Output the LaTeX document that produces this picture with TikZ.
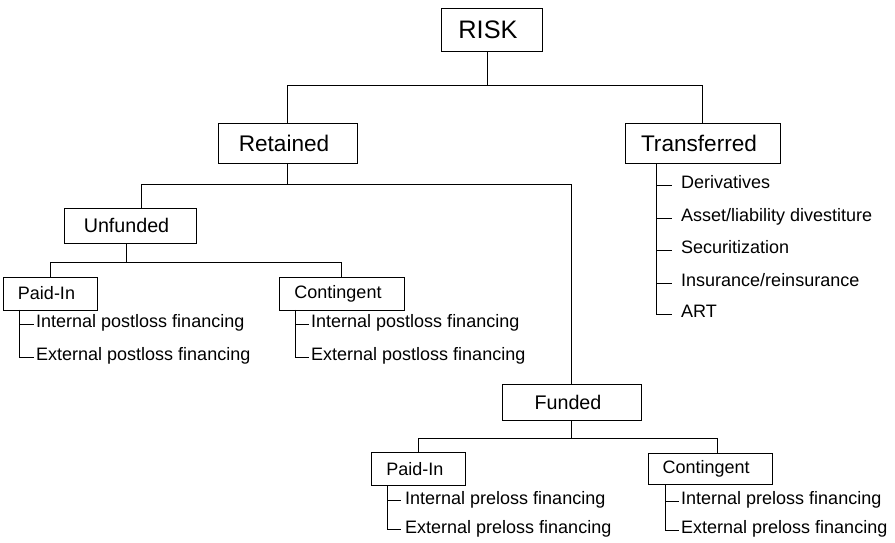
\documentclass[tikz,border=0pt]{standalone}
\usepackage{fontspec}
\setmainfont{Liberation Sans}
\tikzset{
line width=1.1pt, % thin rules for frames and branches
box/.style={draw, inner sep=0pt, execute at end node={\hspace{7pt}}}, % framed category, label sits a bit left
lvlA/.style={box, font=\fontsize{25.3}{30}\selectfont}, % the root
lvlB/.style={box, font=\fontsize{22.6}{27}\selectfont}, % retained / transferred
lvlC/.style={box, font=\fontsize{19.7}{24}\selectfont}, % unfunded / funded
lvlD/.style={box, font=\fontsize{18}{22}\selectfont}, % paid-in / contingent
item/.style={anchor=west, inner xsep=2.5pt, inner ysep=0pt, text height=0.72em, text depth=0pt, font=\fontsize{18}{22}\selectfont}, % listed instrument
}

\begin{document}
\begin{tikzpicture}[x=1pt, y=-1pt]
        \useasboundingbox (0,0) rectangle (895,542);

        \node[lvlA, minimum width=101, minimum height=43] (risk) at (491.5,29.5) {RISK};
        \node[lvlB, minimum width=139, minimum height=40] (ret) at (287.5,143) {Retained};
        \node[lvlB, minimum width=155, minimum height=40] (trans) at (702.5,143) {Transferred};
        \node[lvlC, minimum width=132, minimum height=35.5] (unf) at (130,225.5) {Unfunded};
        \node[lvlC, minimum width=139, minimum height=35.7] (fund) at (571.5,402.2) {Funded};
        \node[lvlD, minimum width=94, minimum height=32.5] (upaid) at (50,293.5) {Paid-In};
        \node[lvlD, minimum width=125, minimum height=32.5] (ucont) at (341.5,293.5) {Contingent};
        \node[lvlD, minimum width=93.3, minimum height=32.3] (fpaid) at (418.3,468.8) {Paid-In};
        \node[lvlD, minimum width=124, minimum height=31.6] (fcont) at (709.7,468.5) {Contingent};

        % transferred instruments
        \node[item, inner xsep=9pt] (t1) at (672,185) {Derivatives};
        \node[item, inner xsep=9pt] (t2) at (672,218) {Asset/liability divestiture};
        \node[item, inner xsep=9pt] (t3) at (672,250) {Securitization};
        \node[item, inner xsep=9pt] (t4) at (672,283) {Insurance/reinsurance};
        \node[item, inner xsep=9pt] (t5) at (672,314) {ART};

        % postloss financing
        \node[item] (up1) at (33.5,324) {Internal postloss financing};
        \node[item] (up2) at (33.5,357) {External postloss financing};
        \node[item] (uc1) at (308.5,324) {Internal postloss financing};
        \node[item] (uc2) at (308.5,357) {External postloss financing};

        % preloss financing
        \node[item, inner xsep=4pt] (fp1) at (401,500.5) {Internal preloss financing};
        \node[item, inner xsep=4pt] (fp2) at (401,529.5) {External preloss financing};
        \node[item, inner xsep=2pt] (fc1) at (679,501) {Internal preloss financing};
        \node[item, inner xsep=2pt] (fc2) at (679,530) {External preloss financing};

        % tree branches
        \draw ([xshift=-4.5]risk.south) -- ++(0,34) coordinate (bRisk);
        \draw (ret.north) |- (bRisk) -| (trans.north);
        \draw (ret.south) -- ++(0,21) coordinate (bRet);
        \draw ([xshift=11]unf.north) |- (bRet) -| (fund.north);
        \draw ([xshift=-4]unf.south) -- ++(0,18.5) coordinate (bUnf);
        \draw (upaid.north) |- (bUnf) -| (ucont.north);
        \draw (fund.south) -- ++(0,17.7) coordinate (bFund);
        \draw (fpaid.north) |- (bFund) -| ([xshift=7.6]fcont.north);

        % list ticks
        \draw ([xshift=31]trans.south west) |- (t1.west)
              ([xshift=31]trans.south west) |- (t2.west)
              ([xshift=31]trans.south west) |- (t3.west)
              ([xshift=31]trans.south west) |- (t4.west)
              ([xshift=31]trans.south west) |- (t5.west);
        \draw ([xshift=16]upaid.south west) |- (up1.west)
              ([xshift=16]upaid.south west) |- (up2.west);
        \draw ([xshift=16]ucont.south west) |- (uc1.west)
              ([xshift=16]ucont.south west) |- (uc2.west);
        \draw ([xshift=15.6]fpaid.south west) |- (fp1.west)
              ([xshift=15.6]fpaid.south west) |- (fp2.west);
        \draw ([xshift=17.3]fcont.south west) |- (fc1.west)
              ([xshift=17.3]fcont.south west) |- (fc2.west);
      \end{tikzpicture}
\end{document}
